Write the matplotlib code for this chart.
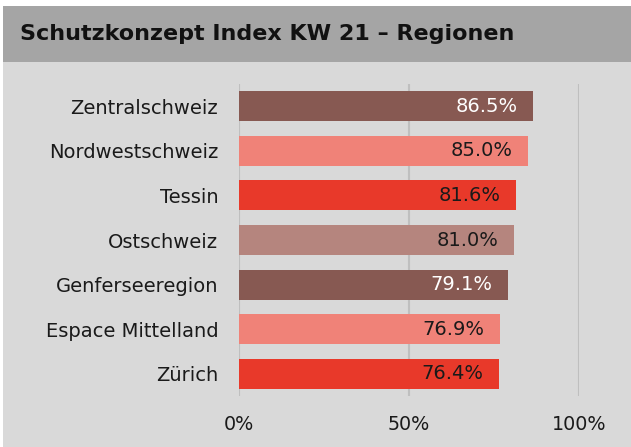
import matplotlib
matplotlib.use("Agg")
import matplotlib.pyplot as plt
from matplotlib.patches import Rectangle

# data
regions = ["Zentralschweiz", "Nordwestschweiz", "Tessin", "Ostschweiz",
           "Genferseeregion", "Espace Mittelland", "Zürich"]
values = [86.5, 85.0, 81.6, 81.0, 79.1, 76.9, 76.4]
bar_colors = ["#875952", "#f08278", "#e8392a", "#b5857e",
              "#875952", "#f08278", "#e8392a"]
label_colors = ["white", "#1a1a1a", "#1a1a1a", "#1a1a1a",
                "white", "#1a1a1a", "#1a1a1a"]
ticks = [0, 50, 100]
tick_labels = ["0%", "50%", "100%"]
title = "Schutzkonzept Index KW 21 – Regionen"

plt.rcParams["font.family"] = ["DejaVu Sans"]

W, H = 631, 447
fig = plt.figure(figsize=(W / 100, H / 100), dpi=100)
fig.patch.set_facecolor("white")

# panel background and title bar
fig.add_artist(Rectangle((3 / W, 0), 1, 1 - 6 / H, transform=fig.transFigure,
                         facecolor="#d9d9d9", edgecolor="none", zorder=0))
fig.add_artist(Rectangle((3 / W, 1 - 62 / H), 1, 56 / H, transform=fig.transFigure,
                         facecolor="#a5a5a5", edgecolor="none", zorder=0))
fig.text(20 / W, 1 - 34 / H, title, fontsize=16, fontweight="bold",
         color="#111111", va="center", ha="left")

ax = fig.add_axes([239 / W, 1 - 396 / H, 340 / W, 312 / H])
ax.set_facecolor("none")

y = list(range(len(regions)))
ax.barh(y, values, height=0.67, color=bar_colors, zorder=2)

for yi, v, c in zip(y, values, label_colors):
    ax.text(v - 4.6, yi, f"{v:.1f}%", ha="right", va="center",
            fontsize=14, color=c, zorder=3)

ax.set_xlim(0, 100)
ax.set_ylim(len(regions) - 0.5, -0.5)
ax.set_yticks(y)
ax.set_yticklabels(regions, fontsize=14, color="#1a1a1a")
ax.set_xticks(ticks)
ax.set_xticklabels(tick_labels, fontsize=13.8, color="#1a1a1a")
ax.tick_params(axis="y", length=0, pad=15)
ax.tick_params(axis="x", length=0, pad=14)
ax.grid(axis="x", color="#bfbfbf", linewidth=1.5, zorder=1)
ax.set_axisbelow(True)
for s in ax.spines.values():
    s.set_visible(False)

fig.savefig("out.png", dpi=100, facecolor=fig.get_facecolor())
